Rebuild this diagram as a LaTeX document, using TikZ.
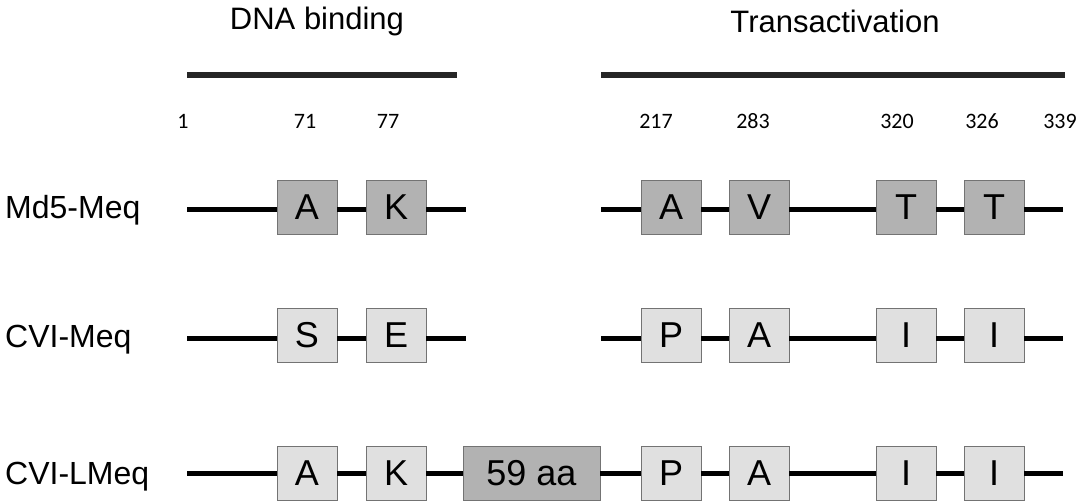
\documentclass[tikz,border=0pt]{standalone}
\usepackage{fontspec}
\newfontfamily\arialf{Liberation Sans}
\newfontfamily\calibf{Carlito}
\newcommand\labfont{\arialf\fontsize{32}{36}\selectfont}
\newcommand\boxfont{\arialf\fontsize{36}{40}\selectfont}
\newcommand\titfont{\arialf\fontsize{31}{36}\selectfont}
\newcommand\numfont{\calibf\fontsize{22}{26}\selectfont}
\tikzset{
  res/.style={draw=black!55, line width=0.8pt, minimum width=60pt, minimum height=54pt, inner sep=0pt, font=\boxfont},
  dark/.style={res, fill=black!30},
  light/.style={res, fill=black!12},
  chain/.style={line width=5pt, black},
  bar/.style={line width=6pt, black!85},
  lab/.style={font=\labfont, anchor=west, inner sep=0pt},
  num/.style={font=\numfont, inner sep=0pt},
  title/.style={font=\titfont, inner sep=0pt}
}
\begin{document}
\begin{tikzpicture}[x=1pt,y=-1pt]
\useasboundingbox (0,0) rectangle (1083,502);
% titles and bars
\node[title] (tdna) at (317,21) {DNA binding};
\node[title] (ttra) at (835,21) {Transactivation};
\coordinate (b1s) at (187,75); \coordinate (b1e) at (457,75);
\coordinate (b2s) at (601,75); \coordinate (b2e) at (1065,75);
\draw[bar] (b1s) -- (b1e);
\draw[bar] (b2s) -- (b2e);
% numbers
\node[num] (n1) at (183,121) {1};
\node[num] (n71) at (305,121) {71};
\node[num] (n77) at (388,121) {77};
\node[num] (n217) at (656,121) {217};
\node[num] (n283) at (753,121) {283};
\node[num] (n320) at (897,121) {320};
\node[num] (n326) at (982,121) {326};
\node[num] (n339) at (1060,121) {339};
% row 1: Md5-Meq
\node[lab] (l1) at (5,210) {Md5-Meq};
\coordinate (r1a) at (187,210); \coordinate (r1b) at (466,210);
\coordinate (r1c) at (601,210); \coordinate (r1d) at (1063,210);
\node[dark] (r1A) at (307,207) {A};
\node[dark] (r1K) at (396,207) {K};
\node[dark] (r1A2) at (671,207) {A};
\node[dark] (r1V) at (759,207) {V};
\node[dark] (r1T) at (906,207) {T};
\node[dark] (r1T2) at (994,207) {T};
\draw[chain] (r1a) -- (r1a -| r1A.west);
\draw[chain] (r1A.east |- r1a) -- (r1K.west |- r1a);
\draw[chain] (r1K.east |- r1a) -- (r1b);
\draw[chain] (r1c) -- (r1A2.west |- r1c);
\draw[chain] (r1A2.east |- r1c) -- (r1V.west |- r1c);
\draw[chain] (r1V.east |- r1c) -- (r1T.west |- r1c);
\draw[chain] (r1T.east |- r1c) -- (r1T2.west |- r1c);
\draw[chain] (r1T2.east |- r1c) -- (r1d);
% row 2: CVI-Meq
\node[lab] (l2) at (5,340) {CVI-Meq};
\coordinate (r2a) at (187,338); \coordinate (r2b) at (466,338);
\coordinate (r2c) at (601,338); \coordinate (r2d) at (1063,338);
\node[light] (r2S) at (307,335) {S};
\node[light] (r2E) at (396,335) {E};
\node[light] (r2P) at (671,335) {P};
\node[light] (r2A) at (759,335) {A};
\node[light] (r2I) at (906,335) {I};
\node[light] (r2I2) at (994,335) {I};
\draw[chain] (r2a) -- (r2a -| r2S.west);
\draw[chain] (r2S.east |- r2a) -- (r2E.west |- r2a);
\draw[chain] (r2E.east |- r2a) -- (r2b);
\draw[chain] (r2c) -- (r2P.west |- r2c);
\draw[chain] (r2P.east |- r2c) -- (r2A.west |- r2c);
\draw[chain] (r2A.east |- r2c) -- (r2I.west |- r2c);
\draw[chain] (r2I.east |- r2c) -- (r2I2.west |- r2c);
\draw[chain] (r2I2.east |- r2c) -- (r2d);
% row 3: CVI-LMeq
\node[lab] (l3) at (5,477) {CVI-LMeq};
\coordinate (r3a) at (187,473); \coordinate (r3d) at (1063,473);
\node[light] (r3A) at (307,473) {A};
\node[light] (r3K) at (396,473) {K};
\node[dark, minimum width=137pt] (r3X) at (531.5,473) {59 aa};
\node[light] (r3P) at (671,473) {P};
\node[light] (r3A2) at (759,473) {A};
\node[light] (r3I) at (906,473) {I};
\node[light] (r3I2) at (994,473) {I};
\draw[chain] (r3a) -- (r3A.west);
\draw[chain] (r3A.east) -- (r3K.west);
\draw[chain] (r3K.east) -- (r3X.west);
\draw[chain] (r3X.east) -- (r3P.west);
\draw[chain] (r3P.east) -- (r3A2.west);
\draw[chain] (r3A2.east) -- (r3I.west);
\draw[chain] (r3I.east) -- (r3I2.west);
\draw[chain] (r3I2.east) -- (r3d);
\end{tikzpicture}
\end{document}
